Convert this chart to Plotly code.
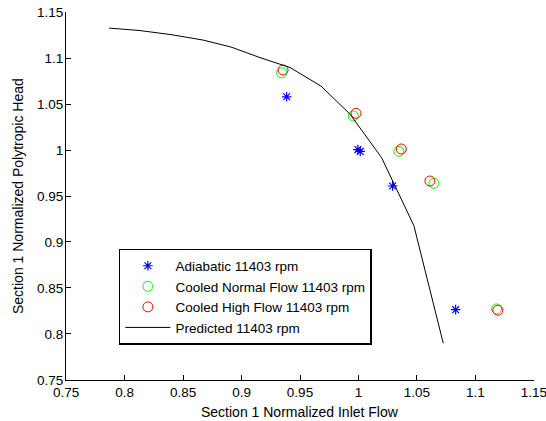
import plotly.graph_objects as go

# Adiabatic 11403 rpm
adi_x = [0.9386, 0.9995, 1.0015, 1.0292, 1.0831]
adi_y = [1.0579, 1.0005, 0.9985, 0.9609, 0.8264]

# Cooled Normal Flow 11403 rpm
cn_x = [0.9344, 0.9956, 1.0346, 1.0645, 1.1181]
cn_y = [1.0840, 1.0370, 0.9986, 0.9638, 0.8272]

# Cooled High Flow 11403 rpm
ch_x = [0.9355, 0.9979, 1.0366, 1.0611, 1.1192]
ch_y = [1.0870, 1.0399, 1.0011, 0.9663, 0.8258]

# Predicted 11403 rpm
pr_x = [0.7868, 0.8132, 0.8397, 0.8671, 0.8910, 0.9158, 0.9415, 0.9679, 0.9927, 1.0198, 1.0474, 1.0725]
pr_y = [1.1326, 1.1299, 1.1255, 1.1196, 1.1120, 1.1005, 1.0897, 1.0696, 1.0391, 0.9916, 0.9177, 0.7899]

x_ticks = [0.75, 0.8, 0.85, 0.9, 0.95, 1.0, 1.05, 1.1, 1.15]
x_labels = ["0.75", "0.8", "0.85", "0.9", "0.95", "1", "1.05", "1.1", "1.15"]
y_ticks = [0.75, 0.8, 0.85, 0.9, 0.95, 1.0, 1.05, 1.1, 1.15]
y_labels = ["0.75", "0.8", "0.85", "0.9", "0.95", "1", "1.05", "1.1", "1.15"]

FONT = "Liberation Sans, Arial, sans-serif"

fig = go.Figure()
fig.add_trace(go.Scatter(x=adi_x, y=adi_y, mode="markers", name="Adiabatic 11403 rpm",
                         marker=dict(symbol="asterisk-open", size=8, color="rgb(0,0,255)",
                                     line=dict(color="rgb(0,0,255)", width=1.2))))
fig.add_trace(go.Scatter(x=cn_x, y=cn_y, mode="markers", name="Cooled Normal Flow 11403 rpm",
                         marker=dict(symbol="circle-open", size=10, color="rgb(0,255,0)",
                                     line=dict(color="rgb(0,255,0)", width=1))))
fig.add_trace(go.Scatter(x=ch_x, y=ch_y, mode="markers", name="Cooled High Flow 11403 rpm",
                         marker=dict(symbol="circle-open", size=10, color="rgb(255,0,0)",
                                     line=dict(color="rgb(255,0,0)", width=1))))
fig.add_trace(go.Scatter(x=pr_x, y=pr_y, mode="lines", name="Predicted 11403 rpm",
                         line=dict(color="black", width=1)))

axis_common = dict(showgrid=False, zeroline=False, showline=True, linecolor="black", linewidth=1,
                   ticks="inside", ticklen=5, tickcolor="black", tickwidth=1, automargin=False,
                   ticklabeloverflow="allow",
                   tickfont=dict(family=FONT, size=13.5, color="black"), mirror=False)

fig.update_layout(
    width=546, height=421,
    margin=dict(l=66, r=12, t=12, b=41),
    paper_bgcolor="white", plot_bgcolor="white",
    font=dict(family=FONT, size=13.5, color="black"),
    xaxis=dict(range=[0.7499, 1.1501], tickvals=x_ticks, ticktext=x_labels,
               ticklabelstandoff=0, **axis_common),
    yaxis=dict(range=[0.7499, 1.1501], tickvals=y_ticks, ticktext=y_labels,
               ticklabelstandoff=-1, **axis_common),
    legend=dict(x=0.113, y=0.356, xanchor="left", yanchor="top",
                bordercolor="black", borderwidth=1.5, bgcolor="white",
                font=dict(family=FONT, size=13.5), itemwidth=45, tracegroupgap=0),
    showlegend=True,
    annotations=[
        dict(text="Section 1 Normalized Inlet Flow", xref="paper", yref="paper",
             x=0.5, y=0, yshift=-32, xanchor="center", yanchor="middle", showarrow=False,
             font=dict(family=FONT, size=14)),
        dict(text="Section 1 Normalized Polytropic Head", xref="paper", yref="paper",
             x=0, y=0.5, xshift=-48, xanchor="center", yanchor="middle", textangle=-90,
             showarrow=False, font=dict(family=FONT, size=14)),
    ],
)

fig.write_html("out.html", config={"displayModeBar": False},
               post_script="document.body.style.margin='0';")
